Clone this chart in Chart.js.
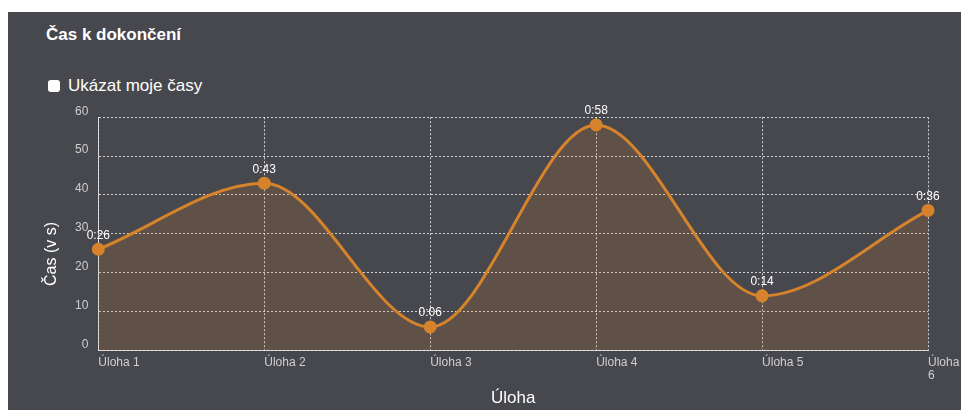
<!DOCTYPE html>
<html>
<head>
<meta charset="utf-8">
<script src="https://cdn.jsdelivr.net/npm/chart.js@4/dist/chart.umd.min.js"></script>
<style>
    html, body { margin: 0; padding: 0; background: #fff; }
    body { width: 961px; height: 410px; overflow: hidden; position: relative; font-family: "Liberation Sans", Arial, sans-serif; }
    #panel { position: absolute; left: 8px; top: 12px; width: 953px; height: 398px; background: #47484d; overflow: hidden; }
    .title { position: absolute; left: 38px; top: 12px; line-height: 22px; font-size: 17px; font-weight: bold; color: #fff; }
    .toggle { position: absolute; left: 40px; top: 63px; line-height: 22px; font-size: 17px; color: #fff; display: flex; align-items: center; }
    .toggle input { appearance: none; -webkit-appearance: none; margin: 0 8px 0 0; width: 12px; height: 12px; background: #fff; border-radius: 3px; }
    #wrap { position: absolute; left: 0; top: 88px; width: 953px; height: 312px; }
</style>
</head>
<body>
<div id="panel">
    <div class="title">Čas k dokončení</div>
    <label class="toggle"><input type="checkbox">Ukázat moje časy</label>
    <div id="wrap"><canvas id="timeChart"></canvas></div>
</div>
<script>
const taskLabels = ["Úloha 1", "Úloha 2", "Úloha 3", "Úloha 4", "Úloha 5", "Úloha 6"];
const taskSeconds = [26, 43, 6, 58, 14, 36];
const yTicks = [0, 10, 20, 30, 40, 50, 60];

const gridColor = "rgba(235,235,235,0.85)";
const orange = "#d6832b";
const fontFamily = "'Liberation Sans', Arial, sans-serif";

function formatTime(sec) {
    const m = Math.floor(sec / 60);
    const s = sec % 60;
    return m + ":" + String(s).padStart(2, "0");
}

// values above points + rotated y title
const labelsPlugin = {
    id: "pointLabels",
    afterDatasetsDraw(chart) {
        const ctx = chart.ctx;
        const meta = chart.getDatasetMeta(0);
        ctx.save();
        ctx.fillStyle = "#fff";
        ctx.font = "12px " + fontFamily;
        ctx.textAlign = "center";
        ctx.textBaseline = "middle";
        meta.data.forEach((pt, i) => {
            ctx.fillText(formatTime(taskSeconds[i]), pt.x, pt.y - 14);
        });
        ctx.restore();
    },
    afterDraw(chart) {
        const ctx = chart.ctx;
        ctx.save();
        ctx.translate(44, 154);
        ctx.rotate(-Math.PI / 2);
        ctx.fillStyle = "#fff";
        ctx.font = "16px " + fontFamily;
        ctx.textAlign = "center";
        ctx.textBaseline = "middle";
        ctx.fillText("Čas (v s)", 0, 0);
        ctx.restore();
    }
};

new Chart(document.getElementById("timeChart"), {
    type: "line",
    data: {
        labels: taskLabels,
        datasets: [{
            data: taskSeconds,
            borderColor: orange,
            backgroundColor: "rgba(214,131,43,0.17)",
            borderWidth: 3,
            fill: "origin",
            cubicInterpolationMode: "monotone",
            pointRadius: 5,
            pointBackgroundColor: orange,
            pointBorderColor: orange,
            pointHoverRadius: 5
        }]
    },
    options: {
        responsive: true,
        maintainAspectRatio: false,
        animation: false,
        layout: { padding: { left: 57, right: 33, top: 11, bottom: 3 } },
        plugins: { legend: { display: false }, tooltip: { enabled: false } },
        scales: {
            x: {
                afterFit: s => { s.paddingRight = 0; },
                grid: { color: gridColor, drawTicks: false },
                border: { color: gridColor, dash: [2, 2] },
                ticks: {
                    color: "#cfcfcf",
                    font: { size: 12, family: fontFamily, lineHeight: 1.1 },
                    align: "start",
                    padding: 6,
                    maxRotation: 0,
                    autoSkip: false,
                    callback: function (v, i) {
                        const l = taskLabels[i];
                        return i === taskLabels.length - 1 ? l.split(" ") : l;
                    }
                },
                title: {
                    display: true,
                    text: "Úloha",
                    color: "#fff",
                    font: { size: 17, family: fontFamily },
                    padding: { top: 0, bottom: 0 }
                }
            },
            y: {
                min: 0,
                max: 60,
                afterBuildTicks: axis => { axis.ticks = yTicks.map(v => ({ value: v })); },
                grid: { color: gridColor, drawTicks: false },
                border: { color: gridColor, dash: [2, 2] },
                ticks: {
                    color: "#cfcfcf",
                    font: { size: 12, family: fontFamily },
                    padding: 10,
                    labelOffset: -6
                }
            }
        }
    },
    plugins: [labelsPlugin]
});
</script>
</body>
</html>
